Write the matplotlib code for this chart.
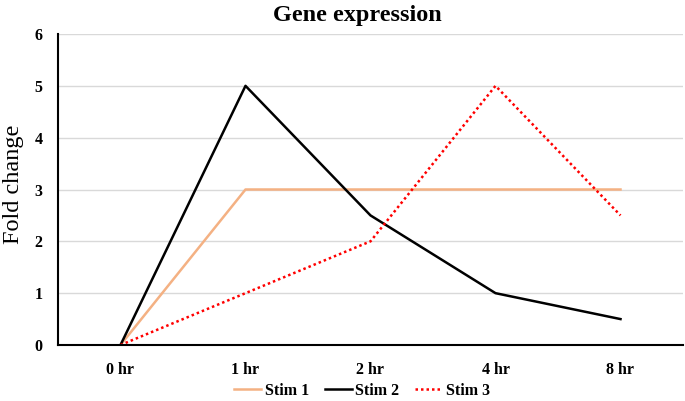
import matplotlib
matplotlib.use("Agg")
import matplotlib.pyplot as plt
import numpy as np

categories = ["0 hr", "1 hr", "2 hr", "4 hr", "8 hr"]
stim1 = [0, 3, 3, 3, 3]
stim2 = [0, 5, 2.5, 1, 0.5]
stim3 = [0, 1, 2, 5, 2.5]

plt.rcParams["font.family"] = ["Liberation Serif", "DejaVu Serif"]

fig = plt.figure(figsize=(6.85, 4.01), dpi=100)
ax = fig.add_axes([58 / 685, 56 / 401, 625 / 685, 311 / 401])

x = np.arange(len(categories))
ax.plot(x, stim1, color="#F4B183", linewidth=1.8, label="Stim 1")
ax.plot(x, stim2, color="black", linewidth=1.8, label="Stim 2")
ax.plot(x, stim3, color="#FF0000", linewidth=1.8, linestyle=(0, (1, 1.2)), label="Stim 3")

ax.set_xlim(-0.5, len(categories) - 0.5)
ax.set_ylim(0, 6)
ax.set_xticks(x)
ax.set_xticklabels(categories, fontweight="bold", fontsize=11.5)
ax.set_yticks(range(0, 7))
ax.set_yticklabels([str(v) for v in range(0, 7)], fontweight="bold", fontsize=11.5)
ax.tick_params(axis="x", length=0, pad=12)
ax.tick_params(axis="y", length=0, pad=11)
ax.grid(axis="y", color="#D9D9D9", linewidth=1)
ax.set_axisbelow(True)
for side in ["top", "right"]:
    ax.spines[side].set_visible(False)
for side in ["left", "bottom"]:
    ax.spines[side].set_color("black")
    ax.spines[side].set_linewidth(1.5)

fig.text(14 / 685, 0.54, "Fold change", rotation=90, ha="center", va="center", fontsize=17.5)
fig.text(357 / 685, 0.962, "Gene expression", ha="center", va="center",
         fontsize=17.5, fontweight="bold")

fig.legend(*ax.get_legend_handles_labels(), loc="center", bbox_to_anchor=(362 / 685, 0.026),
           ncol=3, frameon=False, prop={"weight": "bold", "size": 11.5}, handlelength=1.7,
           handletextpad=0.2, columnspacing=1.0, borderpad=0, borderaxespad=0)

fig.savefig("out.png", dpi=100)
